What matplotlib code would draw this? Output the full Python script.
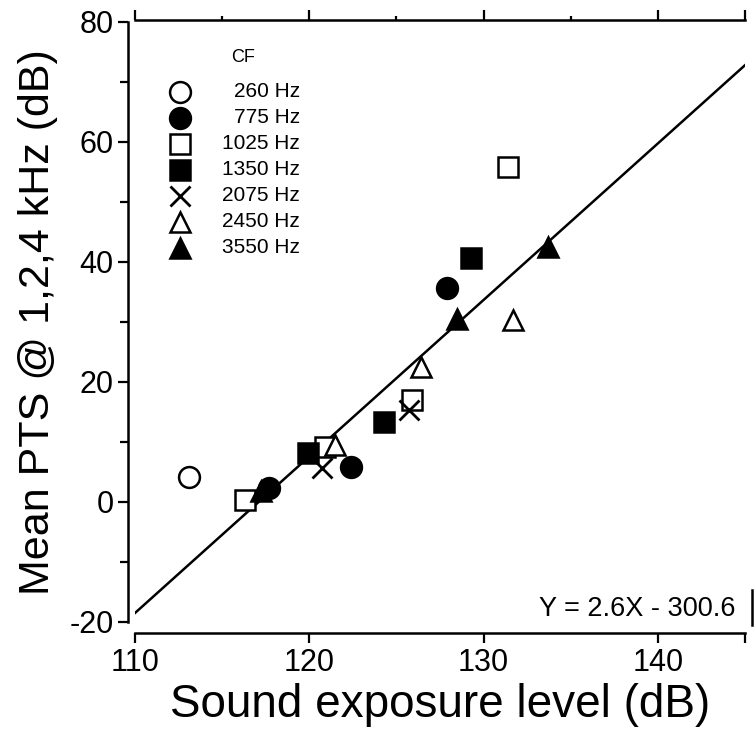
import matplotlib
matplotlib.use("Agg")
import matplotlib.pyplot as plt

plt.rcParams['font.family'] = ['Liberation Sans', 'DejaVu Sans']
plt.rcParams['axes.unicode_minus'] = False

# CF groups: label, marker, filled?
cf_labels = ['260 Hz', '775 Hz', '1025 Hz', '1350 Hz', '2075 Hz', '2450 Hz', '3550 Hz']
cf_markers = ['o', 'o', 's', 's', 'x', '^', '^']
cf_filled = [False, True, False, True, False, False, True]

# sound exposure level (dB) and mean PTS (dB) per CF
sel = [
    [113.1],
    [117.7, 122.4, 127.9],
    [116.3, 120.9, 125.9, 131.4],
    [119.9, 124.3, 129.3],
    [120.7, 125.7],
    [121.5, 126.4, 131.7],
    [117.2, 128.5, 133.7],
]
pts = [
    [4.2],
    [2.3, 5.8, 35.7],
    [0.3, 9.2, 17.0, 55.8],
    [8.2, 13.3, 40.7],
    [5.7, 15.3],
    [9.5, 22.5, 30.3],
    [1.8, 30.5, 42.5],
]

# regression line as drawn
fit_x = [110, 145]
fit_y = [-18.5, 72.8]
fit_text = 'Y = 2.6X - 300.6'

fig = plt.figure(figsize=(7.56, 7.32), dpi=100)
ax = fig.add_axes([0.1786, 0.1503, 0.8069, 0.8197])

ax.plot(fit_x, fit_y, color='black', lw=1.8, zorder=1)


def draw_marker(x, y, m, f, **kw):
    if m == 'x':
        ax.plot(x, y, ls='none', marker='x', ms=14, mew=2.0, color='black', **kw)
    else:
        ax.plot(x, y, ls='none', marker=m, ms=15 if m != 's' else 14,
                mfc='black' if f else 'white', mec='black', mew=1.8, **kw)


for xs, ys, m, f in zip(sel, pts, cf_markers, cf_filled):
    draw_marker(xs, ys, m, f, zorder=3)

# key drawn by hand, numbers right-aligned like the original
ax.text(0.177, 0.94, 'CF', transform=ax.transAxes, ha='center', va='center', fontsize=13)
for i, (lab, m, f) in enumerate(zip(cf_labels, cf_markers, cf_filled)):
    yy = (622 - (92 + 26 * i)) / 600
    draw_marker([0.0738], [yy], m, f, transform=ax.transAxes, clip_on=False)
    ax.text(0.2705, yy, lab, transform=ax.transAxes, ha='right', va='center', fontsize=15)

ax.text(0.984, 0.022, fit_text, transform=ax.transAxes, ha='right', va='center', fontsize=19.5)
ax.plot([1.0115, 1.0115], [-0.005, 0.053], transform=ax.transAxes, color='black', lw=1.8,
        clip_on=False)

ax.set_xlim(110, 145)
ax.set_ylim(-20, 80)

ax.spines['right'].set_visible(False)
for s in ['left', 'bottom', 'top']:
    ax.spines[s].set_linewidth(1.8)
ax.spines['left'].set_position(('outward', 5))
ax.spines['bottom'].set_position(('outward', 8))
ax.spines['top'].set_position(('outward', 1.5))

ax.set_xticks([110, 120, 130, 140, 145])
ax.set_xticklabels(['110', '120', '130', '140', ''])
ax.set_xticks([115, 125, 135], minor=True)
ax.set_yticks([-20, 0, 20, 40, 60, 80])
ax.set_yticks([-10, 10, 30, 50, 70], minor=True)

ax.tick_params(axis='both', which='major', direction='out', length=7, width=1.6, labelsize=22)
ax.tick_params(axis='x', which='both', top=True, labeltop=False)
ax.tick_params(axis='x', which='minor', bottom=False, length=3, width=1.6)
ax.tick_params(axis='y', which='minor', direction='out', length=6, width=1.6)

ax.set_xlabel('Sound exposure level (dB)', fontsize=33, labelpad=4)
ax.set_ylabel('Mean PTS @ 1,2,4 kHz (dB)', fontsize=31, labelpad=8)

fig.savefig('out.png', dpi=100)
